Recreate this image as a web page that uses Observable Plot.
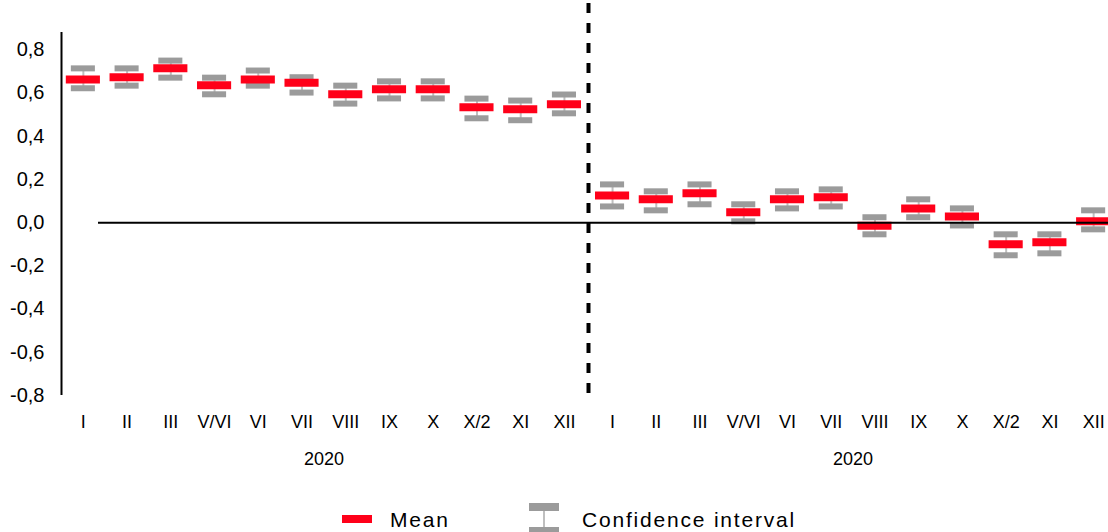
<!DOCTYPE html>
<html>
<head>
<meta charset="utf-8">
<script src="https://cdn.jsdelivr.net/npm/d3@7"></script>
<script src="https://cdn.jsdelivr.net/npm/@observablehq/plot@0.6"></script>
<style>
  html, body { margin: 0; padding: 0; background: #fff; overflow: hidden; }
  #wrap { width: 1108px; height: 532px; position: relative; overflow: hidden; }
  #legend { position: relative; height: 47px; font-family: "Liberation Sans", Arial, sans-serif; color: #000; }
  .lg { position: absolute; font-size: 21px; line-height: 21px; letter-spacing: 1.8px; white-space: nowrap; }
</style>
</head>
<body>
<div id="wrap">
  <div id="chart"></div>
  <div id="legend">
    <svg class="lg" style="left:342px;top:30px" width="30" height="8"><rect width="30" height="8" fill="#ff0019"/></svg>
    <div class="lg" style="left:390px;top:24px">Mean</div>
    <svg class="lg" style="left:529px;top:18px" width="30" height="32">
      <line x1="15" x2="15" y1="8" y2="24" stroke="#bfbfbf" stroke-width="2"/>
      <rect x="0" y="0" width="30" height="8" fill="#9b9b9b"/>
      <rect x="0" y="24" width="30" height="8" fill="#9b9b9b"/>
    </svg>
    <div class="lg" style="left:582px;top:24px">Confidence interval</div>
  </div>
</div>
<script>
// ---- data ----
const months = ["I","II","III","V/VI","VI","VII","VIII","IX","X","X/2","XI","XII"];
const groups = ["2020","2020"];

const mean1 = [0.663, 0.673, 0.714, 0.636, 0.663, 0.647, 0.594, 0.617, 0.617, 0.534, 0.525, 0.548];
const lo1   = [0.622, 0.634, 0.671, 0.594, 0.634, 0.602, 0.551, 0.575, 0.575, 0.483, 0.474, 0.506];
const hi1   = [0.714, 0.714, 0.750, 0.671, 0.704, 0.673, 0.634, 0.654, 0.654, 0.574, 0.565, 0.593];

const mean2 = [0.126, 0.108, 0.136, 0.048, 0.108, 0.117, -0.014, 0.066, 0.029, -0.100, -0.091, 0.006];
const lo2   = [0.075, 0.057, 0.085, 0.006, 0.066, 0.075, -0.054, 0.025, -0.013, -0.151, -0.142, -0.031];
const hi2   = [0.177, 0.145, 0.177, 0.085, 0.145, 0.154, 0.025, 0.108, 0.066, -0.054, -0.054, 0.057];

const yTicks = [-0.8, -0.6, -0.4, -0.2, 0, 0.2, 0.4, 0.6, 0.8];

// ---- table built from arrays ----
const gap = 0.1; // spacing between the two groups (in category units)
const series = [
  {mean: mean1, lo: lo1, hi: hi1},
  {mean: mean2, lo: lo2, hi: hi2}
];
const rows = [];
series.forEach((s, g) => {
  months.forEach((m, i) => {
    rows.push({pos: g * (months.length + gap) + i, label: m, group: g,
               mean: s.mean[i], lo: s.lo[i], hi: s.hi[i]});
  });
});
const labelByPos = new Map(rows.map(d => [d.pos, d.label]));
const groupCenters = groups.map((g, k) => d3.mean(rows.filter(d => d.group === k), d => d.pos));
const groupByPos = new Map(groupCenters.map((c, k) => [c, groups[k]]));
const sepPos = (rows[months.length - 1].pos + rows[months.length].pos) / 2;
const xDomain = [-0.5, rows[rows.length - 1].pos + 0.5];

const fmtY = v => (v < 0 ? "-" : "") + Math.abs(v).toFixed(1).replace(".", ",");

const capHalf = 0.275, barHalf = 0.39;

const chart = Plot.plot({
  width: 1108,
  height: 485,
  marginLeft: 61,
  marginRight: -7,
  marginTop: 32,
  marginBottom: 90,
  style: {fontFamily: "'Liberation Sans', Arial, sans-serif", fontSize: "18px", color: "#000", background: "#fff"},
  x: {type: "linear", domain: xDomain, label: null},
  y: {domain: [-0.8, 0.88], label: null},
  marks: [
    Plot.ruleX(rows, {x: "pos", y1: "lo", y2: "hi", stroke: "#bfbfbf", strokeWidth: 2}),
    Plot.ruleY(rows, {x1: d => d.pos - capHalf, x2: d => d.pos + capHalf, y: "hi", stroke: "#9b9b9b", strokeWidth: 6}),
    Plot.ruleY(rows, {x1: d => d.pos - capHalf, x2: d => d.pos + capHalf, y: "lo", stroke: "#9b9b9b", strokeWidth: 6}),
    Plot.ruleY(rows, {x1: d => d.pos - barHalf, x2: d => d.pos + barHalf, y: "mean", stroke: "#ff0019", strokeWidth: 8}),
    Plot.ruleY([0], {stroke: "#000", strokeWidth: 2, insetLeft: 37}),
    Plot.ruleX([sepPos], {stroke: "#000", strokeWidth: 4, strokeDasharray: "10 10", insetTop: -29, insetBottom: -7}),
    Plot.ruleX([xDomain[0]], {stroke: "#000", strokeWidth: 2}),
    Plot.axisY(yTicks, {tickFormat: fmtY, tickSize: 0, tickPadding: 17, fontSize: 20, fill: "#000", label: null}),
    Plot.axisX(rows.map(d => d.pos), {tickFormat: p => labelByPos.get(p), tickSize: 0, tickPadding: 20, fontSize: 18, fill: "#000", label: null}),
    Plot.axisX(groupCenters, {tickFormat: p => groupByPos.get(p), tickSize: 0, tickPadding: 57, fontSize: 18, fill: "#000", label: null})
  ]
});
document.getElementById("chart").appendChild(chart);
</script>
</body>
</html>
